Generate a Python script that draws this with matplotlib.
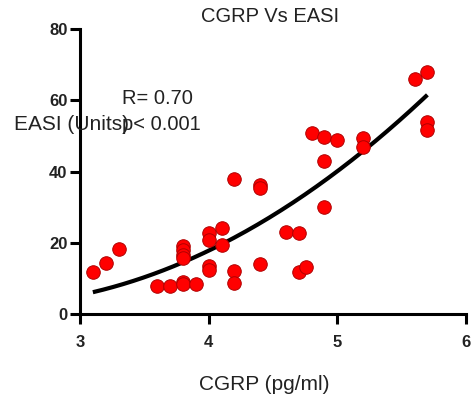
import matplotlib.pyplot as plt
import numpy as np

plt.rcParams['font.family'] = ['Liberation Sans', 'DejaVu Sans']

cgrp = [3.1, 3.2, 3.3, 3.6, 3.7, 3.8, 3.8, 3.8, 3.8, 3.8, 3.8, 3.9,
        4.0, 4.0, 4.0, 4.0, 4.1, 4.1, 4.2, 4.2, 4.2, 4.4, 4.4, 4.4,
        4.6, 4.7, 4.7, 4.76, 4.8, 4.9, 4.9, 4.9, 5.0, 5.2, 5.2,
        5.6, 5.7, 5.7, 5.7]
easi = [11.9, 14.4, 18.2, 7.9, 7.9, 9.1, 8.5, 19.1, 18.0, 16.6, 15.6, 8.3,
        22.8, 20.8, 13.5, 12.4, 24.1, 19.4, 37.9, 12.1, 8.6, 36.2, 35.3, 14.0,
        23.1, 22.8, 11.9, 13.1, 50.8, 49.8, 43.0, 30.1, 48.9, 49.3, 47.0,
        65.9, 67.8, 54.0, 51.7]

# second order fit as drawn in the figure (coefficients)
fit_coef = [4.91, -21.90, 26.82]
fit_range = [3.1, 5.7]

x = np.array(cgrp)
y = np.array(easi)
xs = np.linspace(fit_range[0], fit_range[1], 200)
ys = np.polyval(fit_coef, xs)

fig = plt.figure(figsize=(4.77, 4.09), dpi=100)
ax = fig.add_axes([80/477, 95/409, 386/477, 285/409])

ax.plot(xs, ys, color='black', lw=3, zorder=2, solid_capstyle='butt')
ax.scatter(x, y, s=95, color='#ff0000', edgecolors='#b00000', linewidths=0.7, zorder=3)

ax.set_xlim(3, 6)
ax.set_ylim(0, 80)
ax.set_xticks([3, 4, 5, 6])
ax.set_yticks([0, 20, 40, 60, 80])
for s in ['top', 'right']:
    ax.spines[s].set_visible(False)
for s in ['left', 'bottom']:
    ax.spines[s].set_linewidth(2.2)
ax.tick_params(width=2.2, length=7, labelsize=12, direction='out', labelcolor='#222222')
ax.tick_params(axis='x', pad=8)
ax.tick_params(axis='y', pad=2)
for lab in ax.get_xticklabels() + ax.get_yticklabels():
    lab.set_fontweight('bold')

fig.text(270/477, 1 - 17/409, 'CGRP Vs EASI', fontsize=14.5, ha='center', va='center', color='#222222')
fig.text(264/477, 1 - 384/409, 'CGRP (pg/ml)', fontsize=15, ha='center', va='center', color='#222222')
fig.text(14/477, 1 - 124/409, 'EASI (Units)', fontsize=15, ha='left', va='center', color='#222222')
fig.text(122/477, 1 - 98/409, 'R= 0.70', fontsize=14.5, ha='left', va='center', color='#222222')
fig.text(122/477, 1 - 124/409, 'p< 0.001', fontsize=14.5, ha='left', va='center', color='#222222')

fig.savefig('out.png', dpi=100)
